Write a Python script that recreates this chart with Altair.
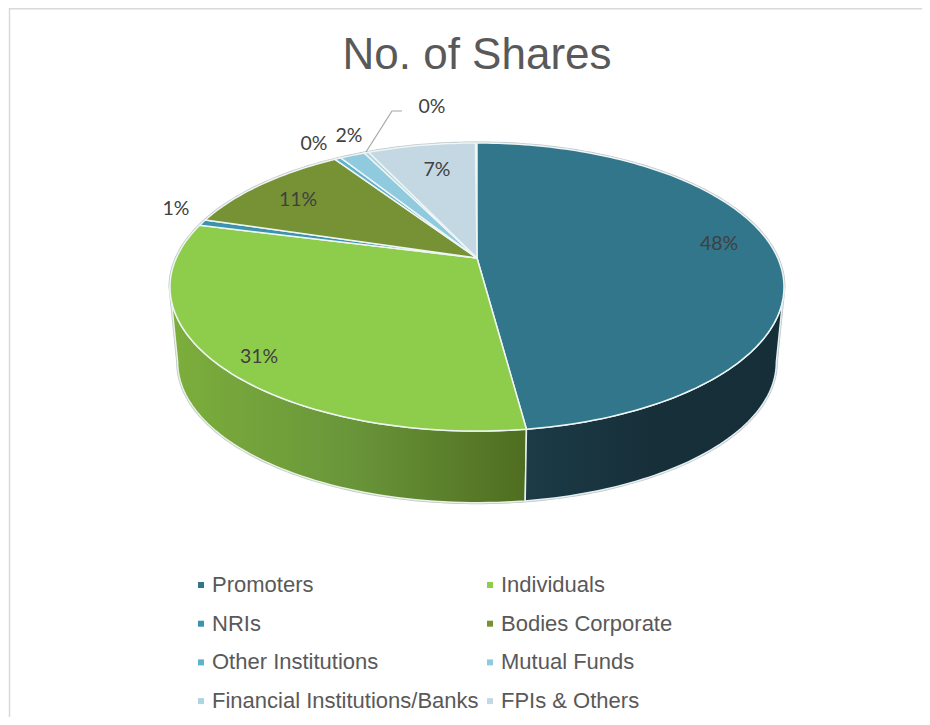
import math
import altair as alt
import pandas as pd

categories = ["Promoters", "Individuals", "NRIs", "Bodies Corporate", "Other Institutions",
              "Mutual Funds", "Financial Institutions/Banks", "FPIs & Others"]
shares = [47.9, 31.1, 0.7, 11.0, 0.4, 1.6, 0.3, 6.9]
colors = ["#31768A", "#8ECC4B", "#3B93AD", "#779234", "#5FB2CE", "#8FCADF", "#AED4E2", "#C4D8E3"]

label_text = ["48%", "31%", "1%", "11%", "0%", "2%", "0%", "7%"]
label_x = [719, 259, 176, 298, 314, 349, 432, 437]
label_y = [244, 357, 209, 200, 144, 136, 107, 170]

leader_x = [366, 392, 402]
leader_y = [152, 111, 111]

# perspective view of the pie
APEX_X, APEX_Y = 477, 258
K, A, C = 0.2014, 138.2, 300.7
DEPTH_SCALE, BOTTOM_APEX_Y = 0.975, 334


def top(theta):
    t = math.radians(theta)
    w = 1 + K * math.cos(t)
    return APEX_X + C * math.sin(t) / w, APEX_Y - A * math.cos(t) / w


def bottom(theta):
    x, y = top(theta)
    return APEX_X + (x - APEX_X) * DEPTH_SCALE, BOTTOM_APEX_Y + (y - APEX_Y) * DEPTH_SCALE


def arc(fn, a, b, n=60):
    return [fn(a + (b - a) * i / n) for i in range(n + 1)]


rows = []
cum = 0.0
for name, v in zip(categories, shares):
    a, b = cum * 3.6, (cum + v) * 3.6
    pts = [(APEX_X, APEX_Y)] + arc(top, a, b, max(4, int(v * 3)))
    for i, (x, y) in enumerate(pts):
        rows.append({"name": name, "x": x, "y": y, "i": i})
    cum += v
faces = pd.DataFrame(rows)

RIGHT_EDGE = math.degrees(math.acos(-K))
LEFT_EDGE = 360 - RIGHT_EDGE
split = shares[0] * 3.6


def side(a, b):
    pts = arc(top, a, b) + arc(bottom, a, b)[::-1]
    return pd.DataFrame([{"x": x, "y": y, "i": i} for i, (x, y) in enumerate(pts)])


side_teal = side(RIGHT_EDGE, split)
side_green = side(split, LEFT_EDGE)
outline_pts = arc(top, LEFT_EDGE, 360 + RIGHT_EDGE, 160) + arc(bottom, RIGHT_EDGE, LEFT_EDGE, 160)
outline = pd.DataFrame([{"x": x, "y": y, "i": i} for i, (x, y) in enumerate(outline_pts)])

X = alt.X("x:Q", scale=alt.Scale(domain=[8, 922], nice=False, zero=False), axis=None)
Y = alt.Y("y:Q", scale=alt.Scale(domain=[717, 8], nice=False, zero=False), axis=None)
O = alt.Order("i:Q")

halo = alt.Chart(outline).mark_line(interpolate="linear-closed", stroke="#BFC6CA", strokeWidth=3).encode(X, Y, O)


def grad(stops):
    return alt.Gradient(gradient="linear", x1=0, x2=1, y1=0, y2=0,
                        stops=[alt.GradientStop(offset=o, color=c) for o, c in stops])


green_side = alt.Chart(side_green).mark_line(
    interpolate="linear-closed", strokeWidth=1.5, stroke="#EAF2E2",
    fill=grad([(0, "#7CAE3C"), (0.5, "#6A963A"), (1, "#4F6D20")])
).encode(X, Y, O)
teal_side = alt.Chart(side_teal).mark_line(
    interpolate="linear-closed", strokeWidth=1.5, stroke="#E4F0F2",
    fill=grad([(0, "#1B3B47"), (0.5, "#172F39"), (1, "#152E37")])
).encode(X, Y, O)

top_faces = alt.Chart(faces).mark_line(
    interpolate="linear-closed", stroke="#EEF5F4", strokeWidth=1.5
).encode(
    X, Y, O,
    fill=alt.Fill("name:N", scale=alt.Scale(domain=categories, range=colors), legend=alt.Legend(
        title=None, orient="none", legendX=182, legendY=566, columns=2, direction="horizontal",
        symbolType="square", symbolSize=36, symbolStrokeWidth=0, labelFont="Liberation Sans",
        labelFontSize=22, labelColor="#595959", labelOffset=0, rowPadding=16.7, columnPadding=-1,
        labelLimit=400, padding=0,
    )),
)

labels = alt.Chart(pd.DataFrame({"t": label_text, "x": label_x, "y": label_y})).mark_text(
    font="Lato", fontSize=19.5, color="#404040"
).encode(X, Y, text="t:N")

leader = alt.Chart(pd.DataFrame({"x": leader_x, "y": leader_y, "i": range(3)})).mark_line(
    stroke="#A6A6A6", strokeWidth=1.2
).encode(X, Y, O)

frame_top = alt.Chart(pd.DataFrame({"x": [9], "x2": [922], "y": [8.7]})).mark_rule(
    stroke="#D9D9D9", strokeWidth=1.5).encode(X, alt.X2("x2:Q"), Y)
frame_left = alt.Chart(pd.DataFrame({"x": [9.5], "y": [8], "y2": [717]})).mark_rule(
    stroke="#D9D9D9", strokeWidth=1.5).encode(X, Y, alt.Y2("y2:Q"))

chart = alt.layer(frame_top, frame_left, halo, green_side, teal_side, top_faces, leader, labels).properties(
    width=914, height=709, padding=0, autosize=alt.AutoSizeParams(type="none"),
    title=alt.TitleParams("No. of Shares", font="Liberation Sans", fontSize=44, fontWeight="normal",
                          color="#595959", anchor="middle", baseline="top", dx=12, dy=71, offset=0),
).configure_view(stroke=None).resolve_scale(x="shared", y="shared")

chart.save("out.html", embed_options={"renderer": "svg", "actions": False})
